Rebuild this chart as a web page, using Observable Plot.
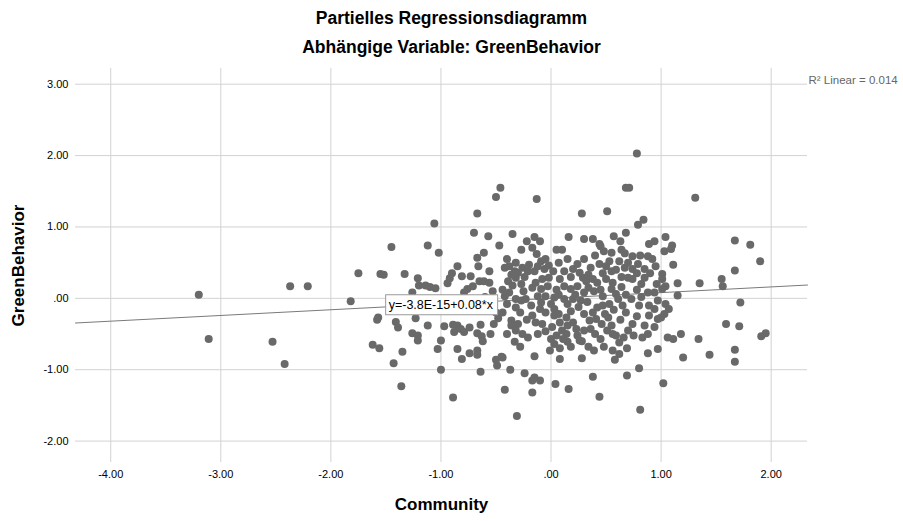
<!DOCTYPE html>
<html><head><meta charset="utf-8">
<script src="https://cdn.jsdelivr.net/npm/d3@7"></script>
<script src="https://cdn.jsdelivr.net/npm/@observablehq/plot@0.6"></script>
<style>
body{margin:0;background:#fff;font-family:"Liberation Sans",Arial,sans-serif;}
#wrap{position:relative;width:903px;height:521px;}
.title{position:absolute;left:0;width:903px;text-align:center;font-weight:bold;font-size:17.5px;color:#000;line-height:20px;}
#chart{position:absolute;left:0;top:0;}
</style></head><body>
<div id="wrap">
<div id="chart"></div>
<div class="title" id="title" style="top:8px"></div>
<div class="title" id="subtitle" style="top:37px"></div>
</div>
<script>
const titleText = "Partielles Regressionsdiagramm";
const subtitleText = "Abhängige Variable: GreenBehavior";
const xLabel = "Community";
const yLabel = "GreenBehavior";
const xTicks = [-4, -3, -2, -1, 0, 1, 2];
const yTicks = [-2, -1, 0, 1, 2, 3];
const xDomain = [-4.32, 2.33];
const yDomain = [-2.30, 3.22];
const fitIntercept = -3.8e-15;
const fitSlope = 0.08;
const fitLabel = "y=-3.8E-15+0.08*x";
const r2Label = "R\u00B2 Linear = 0.014";

// [Community, GreenBehavior]
const observations = [
[-3.20,0.05],[-3.11,-0.57],[-2.37,0.17],[-2.21,0.17],[-2.53,-0.61],[-2.42,-0.92],[-1.82,-0.04],[-1.75,0.35],
[-1.06,1.05],[-0.67,1.19],[-0.50,1.42],[-0.46,1.55],[-0.70,0.92],[-0.57,0.87],[-1.45,0.72],[-1.12,0.74],[-0.47,0.74],
[0.78,2.03],[0.68,1.55],[0.71,1.55],[-0.13,1.39],[0.28,1.19],[0.51,1.22],[0.84,1.10],[0.79,1.03],[-0.35,0.90],[-0.15,0.86],[-0.10,0.80],[-0.22,0.80],[0.16,0.86],[0.30,0.83],[0.38,0.83],[0.57,0.87],[0.68,0.92],[0.63,0.80],[0.44,0.76],[0.94,0.80],[0.89,0.76],
[1.31,1.41],[1.04,0.86],[1.67,0.81],[1.81,0.75],[1.10,0.74],
[1.90,0.52],[1.67,0.39],[1.11,0.47],[1.55,0.27],[1.56,0.17],[1.35,0.21],[1.15,0.21],[1.15,0.04],[1.72,-0.06],[1.59,-0.36],[1.71,-0.39],[1.18,-0.50],[1.34,-0.57],[1.91,-0.53],[1.95,-0.49],[1.03,0.66],[1.09,0.69],[1.01,0.34],[1.01,0.27],[1.04,0.17],[1.01,0.13],[1.04,-0.08],[1.07,-0.15],[1.03,-0.22],[1.00,-0.27],[1.06,-0.55],[1.11,-0.57],
[1.67,-0.72],[1.67,-0.89],[1.44,-0.79],[1.20,-0.83],[1.02,-1.19],
[0.81,-1.56],[-0.31,-1.65],[0.44,-1.38],[0.16,-1.27],[0.04,-1.20],[-0.17,-1.32],[-0.42,-1.28],[-0.15,-1.11],[-0.17,-1.15],[-0.10,-1.15],[-0.24,-1.05],[-0.37,-1.00],[0.38,-1.10],[0.69,-1.08],[0.80,-0.98],[0.88,-0.77],[0.97,-0.71],[0.58,-0.86],[0.62,-0.78],[0.56,-0.73],[0.69,-0.70],[0.62,-0.62],[0.48,-0.68],[0.39,-0.73],[0.34,-0.68],[0.28,-0.84],[0.08,-0.85],[0.18,-0.68],[0.08,-0.70],[-0.01,-0.73],[0.03,-0.64],[0.15,-0.61],[0.26,-0.59],[-0.15,-0.81],[-0.28,-0.68],[-0.33,-0.61],[-0.44,-0.83],
[-0.89,-1.39],[-1.36,-1.23],[-1.00,-1.00],[-0.64,-1.03],[-1.43,-0.91],[-1.35,-0.75],[-1.62,-0.65],[-1.56,-0.70],[-1.21,-0.59],[-1.03,-0.71],[-1.00,-0.59],[-0.85,-0.71],[-0.81,-0.85],[-0.74,-0.77],[-0.67,-0.73],[-0.67,-0.79],[-0.50,-0.86],[-0.49,-0.94],[-0.45,-0.82],
[-1.02,0.64],[-1.55,0.34],[-1.52,0.33],[-1.33,0.34],[-1.21,0.28],[-1.20,0.18],[-1.14,0.18],[-1.10,0.16],[-1.05,0.14],[-1.26,0.08],[-1.57,-0.27],[-1.58,-0.30],[-1.41,-0.33],[-1.39,-0.41],[-1.23,-0.28],[-1.12,-0.38],[-1.26,-0.49],[-1.21,-0.52],[-0.97,-0.39],[-0.89,-0.37],[-0.85,-0.38],[-0.82,-0.43],[-0.88,-0.47],[-0.79,-0.47],[-0.74,-0.41],[-0.67,-0.49],[-0.64,-0.37],[-0.63,-0.53],[-0.52,-0.36],[-0.48,-0.28],[-0.50,-0.20],
[-0.94,0.21],[-0.92,0.28],[-0.90,0.35],[-0.85,0.45],[-0.81,0.31],[-0.73,0.31],[-0.76,0.13],[-0.79,0.08],[-0.71,0.17],[-0.67,0.57],[-0.66,0.45],[-0.61,0.64],[-0.56,0.38],[-0.65,0.24],[-0.61,0.24],[-0.56,0.22],[-0.53,0.10],
[-0.27,0.68],[-0.17,0.71],[-0.13,0.62],[0.05,0.68],[0.10,0.68],[0.48,0.66],[0.55,0.64],[0.64,0.68],[0.67,0.63],[0.74,0.59],[0.81,0.60],[0.88,0.59],[0.45,0.73],
[-0.42,0.43],[-0.38,0.45],[-0.32,0.50],[-0.33,0.38],[-0.26,0.43],[-0.21,0.38],[-0.15,0.38],[-0.09,0.52],[-0.05,0.55],[-0.06,0.41],[0.12,0.38],[0.20,0.41],[0.24,0.48],[0.30,0.55],[0.36,0.43],[0.44,0.48],[0.50,0.45],[0.55,0.38],[0.59,0.40],[0.67,0.43],[0.74,0.41],[0.79,0.48],[0.85,0.41],[0.95,0.45],
[-0.39,0.24],[-0.32,0.29],[-0.35,0.18],[-0.27,0.20],[-0.17,0.15],[-0.08,0.27],[-0.02,0.29],[0.08,0.27],[0.12,0.17],[0.18,0.13],[0.24,0.17],[0.29,0.29],[0.32,0.24],[0.38,0.27],[0.42,0.22],[0.50,0.27],[0.39,0.10],[0.55,0.13],[0.59,0.06],[0.70,0.29],[0.74,0.27],[0.85,0.29],[0.94,0.08],[0.88,0.08],[-0.09,0.13],
[-0.42,0.03],[-0.32,-0.01],[-0.27,-0.03],[-0.23,-0.01],[-0.18,-0.10],[-0.32,-0.13],[-0.12,0.03],[-0.09,-0.06],[-0.05,0.03],[0.03,0.01],[0.12,-0.01],[0.15,-0.08],[0.20,-0.01],[0.27,-0.03],[0.42,-0.13],[0.47,-0.10],[0.53,-0.08],[0.61,-0.01],[0.65,-0.10],[0.73,-0.01],[0.89,-0.10],[0.94,-0.15],[0.03,-0.15],
[-0.44,-0.20],[-0.36,-0.31],[-0.36,-0.38],[-0.32,-0.45],[-0.26,-0.50],[-0.17,-0.24],[-0.14,-0.34],[-0.08,-0.36],[-0.05,-0.20],[-0.12,-0.50],[-0.21,-0.55],[0.03,-0.24],[0.08,-0.34],[0.14,-0.27],[0.15,-0.38],[0.20,-0.34],[0.23,-0.43],[0.24,-0.52],[0.14,-0.50],[0.35,-0.31],[0.41,-0.29],[0.36,-0.43],[0.52,-0.27],[0.55,-0.38],[0.56,-0.50],[0.59,-0.52],[0.74,-0.36],[0.85,-0.38],[0.89,-0.24],[0.97,-0.29],[0.11,-0.57],[0.00,-0.57],[0.45,-0.57],[0.88,-0.50],
[-0.40,0.55],[-0.36,0.33],[-0.30,0.36],[-0.24,0.30],[-0.20,0.47],[-0.12,0.45],[-0.02,0.46],[0.02,0.38],[0.07,0.50],[0.15,0.55],[0.18,0.30],[0.26,0.36],[0.34,0.33],[0.40,0.60],[0.47,0.35],[0.53,0.52],[0.62,0.52],[0.64,0.30],[0.70,0.50],[0.78,0.35],[0.82,0.20],[0.90,0.35],[0.96,0.20],[0.92,0.55],
[-0.44,0.12],[-0.38,0.08],[-0.25,0.10],[-0.14,0.22],[-0.03,0.17],[0.05,0.12],[0.07,0.05],[0.22,0.05],[0.30,0.08],[0.34,0.15],[0.45,0.12],[0.47,0.03],[0.56,0.22],[0.64,0.16],[0.68,0.05],[0.78,0.12],[0.82,0.02],[0.97,-0.03],
[-0.40,-0.08],[-0.28,-0.20],[-0.22,-0.30],[-0.10,-0.15],[0.00,-0.08],[0.07,-0.22],[0.10,-0.45],[0.18,-0.18],[0.25,-0.12],[0.30,-0.22],[0.33,-0.05],[0.38,-0.20],[0.46,-0.36],[0.49,-0.22],[0.57,-0.16],[0.63,-0.30],[0.68,-0.20],[0.70,-0.45],[0.78,-0.25],[0.80,-0.10],[0.83,-0.55],[0.94,-0.40],
[-0.40,-0.50],[-0.30,-0.36],[-0.05,-0.46],[0.01,-0.40],[0.05,-0.52],[0.30,-0.45],[0.28,-0.60],[0.40,-0.50],[0.51,-0.45],[0.66,-0.55],[0.75,-0.52],
[-0.56,-0.05],[-0.60,0.02],[-0.58,-0.15],[-0.70,-0.10],[-0.62,-0.60],[-0.55,-0.50]
];

document.getElementById("title").textContent = titleText;
document.getElementById("subtitle").textContent = subtitleText;

const fmt = d => (d < 0 ? "-" : "") + Math.abs(d).toFixed(2).replace(/^0/, "");
const fitLine = xDomain.map(x => ({x, y: fitIntercept + fitSlope * x}));

const plot = Plot.plot({
  width: 903, height: 521,
  marginLeft: 75, marginRight: 96, marginTop: 68, marginBottom: 59,
  style: {fontFamily: "'Liberation Sans', Arial, sans-serif", fontSize: "11px", background: "transparent", color: "#000"},
  x: {domain: xDomain, label: null},
  y: {domain: yDomain, label: null},
  marks: [
    Plot.gridX(xTicks, {stroke: "#d2d2d2", strokeOpacity: 1}),
    Plot.gridY(yTicks, {stroke: "#d2d2d2", strokeOpacity: 1}),
    Plot.line(fitLine, {x: "x", y: "y", stroke: "#7a7a7a", strokeWidth: 1}),
    Plot.dot(observations, {x: d => d[0], y: d => d[1], r: 4, fill: "#696969", stroke: "none"}),
    Plot.axisX(xTicks, {tickFormat: fmt, tickSize: 0, tickPadding: 8, line: true, stroke: "#666", fill: "#000", label: null, fontSize: 11}),
    Plot.axisY(yTicks, {tickFormat: fmt, tickSize: 0, tickPadding: 7, line: true, stroke: "#666", fill: "#000", label: null, fontSize: 11}),
    Plot.text([xLabel], {frameAnchor: "bottom", dy: 47, fontWeight: "bold", fontSize: 17, fill: "#000"}),
    Plot.text([yLabel], {frameAnchor: "left", textAnchor: "middle", dx: -57, rotate: -90, fontWeight: "bold", fontSize: 17, fill: "#000"}),
    Plot.text([r2Label], {frameAnchor: "top-right", textAnchor: "start", dx: 1, dy: 7, fontSize: 11.5, fill: "#666"}),
    Plot.text([fitLabel], {x: -1.475, y: -0.09, textAnchor: "start", fontSize: 12.5, fill: "#000", className: "fitlabel"})
  ]
});
document.getElementById("chart").appendChild(plot);
// box behind the equation label
const g = plot.querySelector("g.fitlabel");
if (g) {
  const t = g.querySelector("text");
  const bb = t.getBBox();
  const rect = document.createElementNS("http://www.w3.org/2000/svg", "rect");
  rect.setAttribute("x", bb.x - 3); rect.setAttribute("y", bb.y - 3);
  rect.setAttribute("width", bb.width + 7); rect.setAttribute("height", bb.height + 6);
  if (t.getAttribute("transform")) rect.setAttribute("transform", t.getAttribute("transform"));
  rect.setAttribute("fill", "#fff"); rect.setAttribute("stroke", "#9a9a9a"); rect.setAttribute("stroke-width", 1);
  g.insertBefore(rect, g.firstChild);
}
</script>
</body></html>
